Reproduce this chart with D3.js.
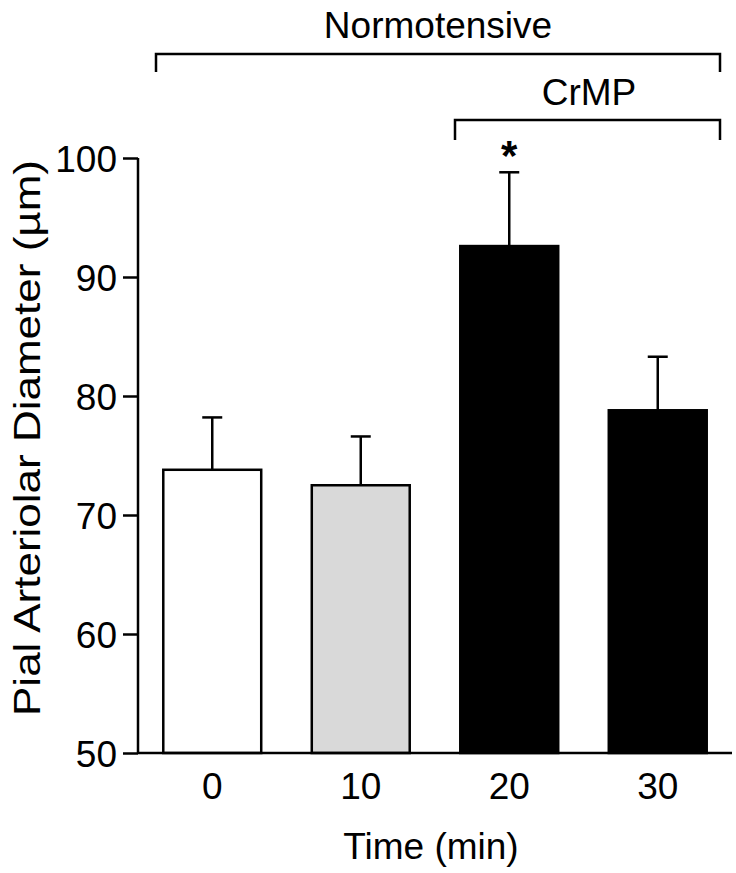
<!DOCTYPE html>
<html><head><meta charset="utf-8">
<script src="https://cdn.jsdelivr.net/npm/d3@7"></script>
<style>
body{margin:0;background:#fff;}
text{font-family:"Liberation Sans",Arial,sans-serif;fill:#000;}
</style></head>
<body><svg id="chart" width="736" height="873"></svg>
<script>
const categories = ["0","10","20","30"];
const means = [73.8, 72.5, 92.6, 78.8];
const sems = [4.4, 4.1, 6.2, 4.5];
const fills = ["#ffffff","#d9d9d9","#000000","#000000"];
const yTicks = [50,60,70,80,90,100];
const significance = ["","","*",""];

const svg = d3.select("#chart");
const x = d3.scaleBand().domain(categories).range([138,732]).paddingInner(0.327).paddingOuter(0.1635);
const y = d3.scaleLinear().domain([50,100]).range([753,158]);
const FS = 37;

// bars
svg.selectAll("rect.bar").data(categories).enter().append("rect")
  .attr("x", d=>x(d)+1).attr("width", x.bandwidth()-2)
  .attr("y", (d,i)=>y(means[i])).attr("height",(d,i)=>y(50)-y(means[i]))
  .attr("fill",(d,i)=>fills[i]).attr("stroke","#000").attr("stroke-width",2.5);

// error bars
const eb = svg.selectAll("g.err").data(categories).enter().append("g");
eb.append("line").attr("x1",d=>x(d)+x.bandwidth()/2).attr("x2",d=>x(d)+x.bandwidth()/2)
  .attr("y1",(d,i)=>y(means[i])).attr("y2",(d,i)=>y(means[i]+sems[i]))
  .attr("stroke","#000").attr("stroke-width",2.5);
eb.append("line").attr("x1",d=>x(d)+x.bandwidth()/2-10).attr("x2",d=>x(d)+x.bandwidth()/2+10)
  .attr("y1",(d,i)=>y(means[i]+sems[i])).attr("y2",(d,i)=>y(means[i]+sems[i]))
  .attr("stroke","#000").attr("stroke-width",2.5);
eb.append("text").attr("x",d=>x(d)+x.bandwidth()/2).attr("y",(d,i)=>y(means[i]+sems[i])-2)
  .attr("text-anchor","middle").attr("font-size",42).attr("font-weight","bold").text((d,i)=>significance[i]);

// y axis
const yAxis = d3.axisLeft(y).tickValues(yTicks).tickSize(15).tickPadding(6);
const gy = svg.append("g").attr("transform","translate(138,0)").call(yAxis);
gy.select(".domain").attr("d","M0,158V753").attr("stroke-width",2.5);
gy.selectAll(".tick line").attr("stroke-width",2.5);
gy.selectAll(".tick text").attr("font-size",FS).attr("font-family","Liberation Sans, Arial, sans-serif").attr("dy","0.36em");

// x axis
const xAxis = d3.axisBottom(x).tickSize(0).tickPadding(20);
const gx = svg.append("g").attr("transform","translate(0,753)").call(xAxis);
gx.select(".domain").attr("d","M138,0H732").attr("stroke-width",2.5);
gx.selectAll(".tick text").attr("font-size",FS).attr("font-family","Liberation Sans, Arial, sans-serif");

// axis titles
svg.append("text").attr("x",431).attr("y",859).attr("text-anchor","middle").attr("font-size",FS).text("Time (min)");
svg.append("text").attr("transform","translate(40,438) rotate(-90)").attr("text-anchor","middle").attr("font-size",FS)
  .attr("textLength",556).attr("lengthAdjust","spacingAndGlyphs").text("Pial Arteriolar Diameter (µm)");

// brackets
function bracket(x0,x1,yTop,yBot,label,ly,lx){
  svg.append("path").attr("d",`M${x0},${yBot}V${yTop}H${x1}V${yBot}`).attr("fill","none").attr("stroke","#000").attr("stroke-width",2.5);
  svg.append("text").attr("x",lx).attr("y",ly).attr("text-anchor","middle").attr("font-size",FS).text(label);
}
bracket(156,720,54,72,"Normotensive",38,438);
bracket(455,720,120,140,"CrMP",105,589);
</script></body></html>
